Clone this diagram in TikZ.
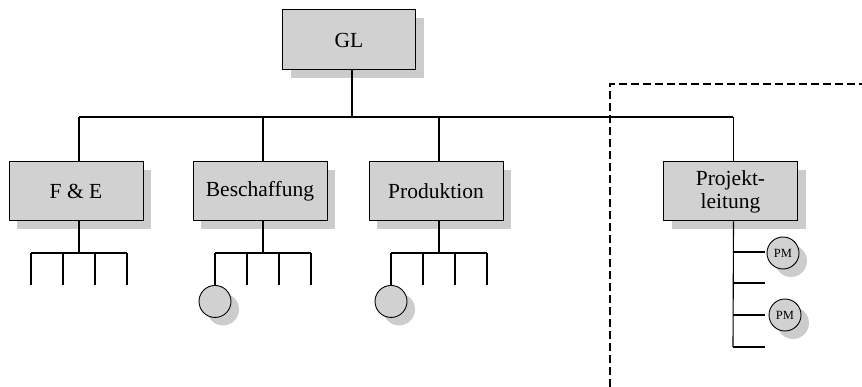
\documentclass[tikz,border=0pt]{standalone}
\usepackage{fontspec}
\setmainfont{Liberation Serif}
\usetikzlibrary{shadows,calc}
\definecolor{boxgray}{gray}{0.82}
\definecolor{shadegray}{gray}{0.80}
\tikzset{
  unitbox/.style={draw=black, line width=1pt, fill=boxgray,
    minimum width=134pt, minimum height=59pt, inner sep=2pt,
    align=center, font=\fontsize{21.5}{23}\selectfont,
    drop shadow={shadow xshift=8pt, shadow yshift=-8pt, fill=shadegray, opacity=1}},
  staff/.style={draw=black, line width=0.9pt, fill=boxgray, circle,
    minimum size=32pt, inner sep=0pt, font=\fontsize{12.5}{13}\selectfont,
    drop shadow={shadow xshift=8pt, shadow yshift=-8pt, fill=shadegray, opacity=1}},
  link/.style={line width=1.1pt, black},
  frame/.style={line width=1.1pt, black, dash pattern=on 8pt off 4pt},
}
\begin{document}
\begin{tikzpicture}[x=1pt, y=-1pt]
  \useasboundingbox (0,0) rectangle (862,387);

  % management and departments
  \node[unitbox, minimum width=133pt, minimum height=60pt] (gl) at (349,40) {GL};
  \node[unitbox] (fe)   at (76,191.5)  {F \& E};
  \node[unitbox] (besch) at (260,191.5) {Beschaffung};
  \node[unitbox] (prod) at (436,191.5) {Produktion};
  \node[unitbox] (pl)   at (730.5,191.5) {Projekt-\\leitung};

  % main bus
  \coordinate (busL) at (79,117);
  \coordinate (busR) at (733,117);
  \draw[link] ([xshift=3pt]gl.south) -- ([xshift=3pt]gl.south |- busL);
  \draw[link] (busL) -- (busR);
  \foreach \n in {fe,besch,prod,pl}
    \draw[link] ([xshift=3pt]\n.north |- busL) -- ([xshift=3pt]\n.north);

  % sub-units of the departments
  \foreach \n/\x in {fe/79,besch/263,prod/439} {
    \coordinate (\n-bus) at (\x,253);
    \draw[link] ([xshift=3pt]\n.south) -- (\n-bus);
    \draw[link] (\x-48,253) -- (\x+48,253);
    \foreach \k in {0,1,2,3}
      \coordinate (\n-t\k) at (\x-48+\k*32,285);
    \foreach \k in {0,1,2,3}
      \draw[link] (\x-48+\k*32,253) -- (\n-t\k);
  }
  \node[staff, anchor=north] (besch-c) at (besch-t0) {};
  \node[staff, anchor=north] (prod-c)  at (prod-t0) {};

  % project managers
  \coordinate (pl-end) at (733,347);
  \draw[link] ([xshift=3pt]pl.south) -- (pl-end);
  \foreach \y/\k in {252/1,283/2,315/3,347/4} {
    \coordinate (pl-b\k) at (765,\y);
    \draw[link] (733,\y) -- (pl-b\k);
  }
  \node[staff] (pm1) at (783,253) {PM};
  \node[staff] (pm2) at (785,315) {PM};

  % project area boundary
  \coordinate (fr1) at (610,387);
  \coordinate (fr2) at (610,84);
  \coordinate (fr3) at (862,84);
  \draw[frame] (fr1) -- (fr2) -- (fr3);
\end{tikzpicture}
\end{document}
